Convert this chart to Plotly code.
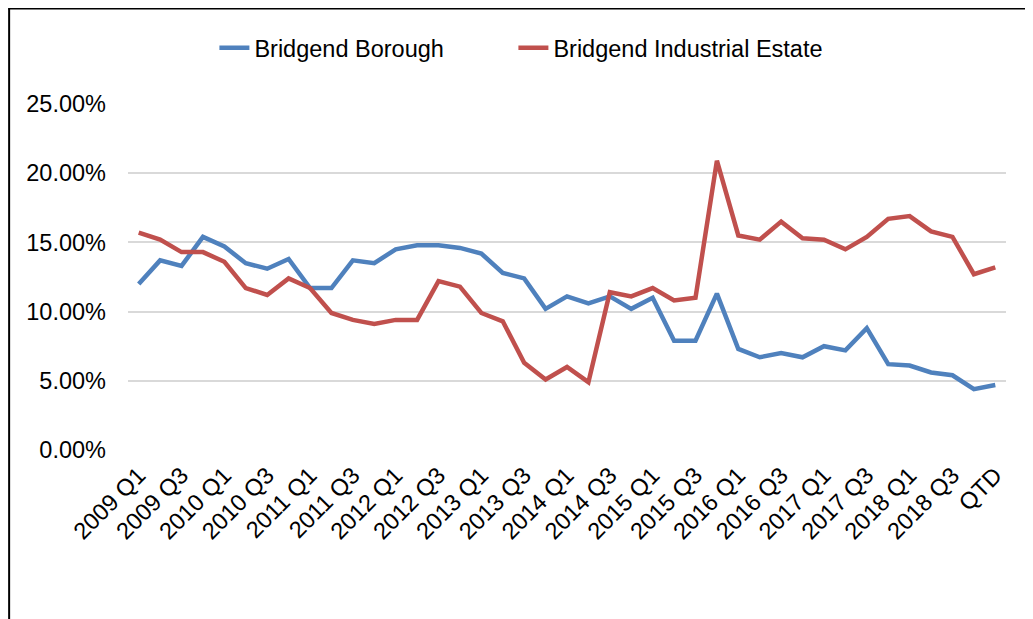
import plotly.graph_objects as go

categories = [f"{y} Q{q}" for y in range(2009, 2019) for q in range(1, 5)] + ["QTD"]

bridgend_borough = [12.0, 13.7, 13.3, 15.4, 14.7, 13.5, 13.1, 13.8, 11.7, 11.7,
                    13.7, 13.5, 14.5, 14.8, 14.8, 14.6, 14.2, 12.8, 12.4, 10.2,
                    11.1, 10.6, 11.1, 10.2, 11.0, 7.9, 7.9, 11.3, 7.3, 6.7,
                    7.0, 6.7, 7.5, 7.2, 8.8, 6.2, 6.1, 5.6, 5.4, 4.4, 4.7]

bridgend_industrial = [15.7, 15.2, 14.3, 14.3, 13.6, 11.7, 11.2, 12.4, 11.7, 9.9,
                       9.4, 9.1, 9.4, 9.4, 12.2, 11.8, 9.9, 9.3, 6.3, 5.1,
                       6.0, 4.9, 11.4, 11.1, 11.7, 10.8, 11.0, 20.9, 15.5, 15.2,
                       16.5, 15.3, 15.2, 14.5, 15.4, 16.7, 16.9, 15.8, 15.4, 12.7, 13.2]

tick_labels = categories[::2]
y_ticks = [0, 5, 10, 15, 20, 25]
y_tick_text = [f"{v:.2f}%" for v in y_ticks]

# page body has an 8px margin, so figure coords = page coords - 8
OFF = 8
W, H = 1025, 611
ML = 127.5 - OFF
MT = 104 - OFF
plot_right = 1006.5 - OFF
plot_bottom = 449.7 - OFF
MR = W - plot_right
MB = H - plot_bottom
pw = plot_right - ML
ph = plot_bottom - MT

def px_x(p):
    return (p - OFF - ML) / pw

def px_y(p):
    return (plot_bottom - (p - OFF)) / ph

fig = go.Figure()
fig.add_trace(go.Scatter(x=categories, y=bridgend_borough, mode="lines",
                         name="Bridgend Borough", legendwidth=254,
                         line=dict(color="#4F81BD", width=4.5)))
fig.add_trace(go.Scatter(x=categories, y=bridgend_industrial, mode="lines",
                         name="Bridgend Industrial Estate",
                         line=dict(color="#C0504D", width=4.5)))

font_family = "Arial, Liberation Sans, sans-serif"
FS = 23.5

fig.update_layout(
    width=W, height=H,
    margin=dict(l=ML, r=MR, t=MT, b=MB, pad=0),
    paper_bgcolor="white", plot_bgcolor="white",
    font=dict(family=font_family, size=FS, color="black"),
    legend=dict(orientation="h", x=px_x(214), xanchor="left",
                y=px_y(48), yanchor="middle",
                font=dict(size=FS), itemwidth=30,
                bgcolor="rgba(0,0,0,0)"),
    xaxis=dict(type="category", categoryorder="array", categoryarray=categories,
               range=[-0.5, len(categories) - 0.5],
               tickmode="array", tickvals=tick_labels, ticktext=tick_labels,
               tickangle=-45, showgrid=False, zeroline=False, showline=False,
               ticks="", ticklabelstandoff=6, tickfont=dict(size=FS)),
    yaxis=dict(range=[0, 25], tickmode="array", tickvals=y_ticks,
               ticktext=y_tick_text,
               showgrid=True, gridcolor="#D9D9D9", gridwidth=1.5,
               zeroline=False, showline=False, ticks="",
               ticklabelstandoff=21, tickfont=dict(size=FS)),
    shapes=[
        dict(type="line", xref="paper", yref="paper",
             x0=px_x(7.5), x1=px_x(1045), y0=px_y(8.5), y1=px_y(8.5),
             line=dict(color="black", width=2)),
        dict(type="line", xref="paper", yref="paper",
             x0=px_x(8.5), x1=px_x(8.5), y0=px_y(8.5), y1=px_y(640),
             line=dict(color="black", width=2)),
    ],
)

fig.write_html("out.html")
